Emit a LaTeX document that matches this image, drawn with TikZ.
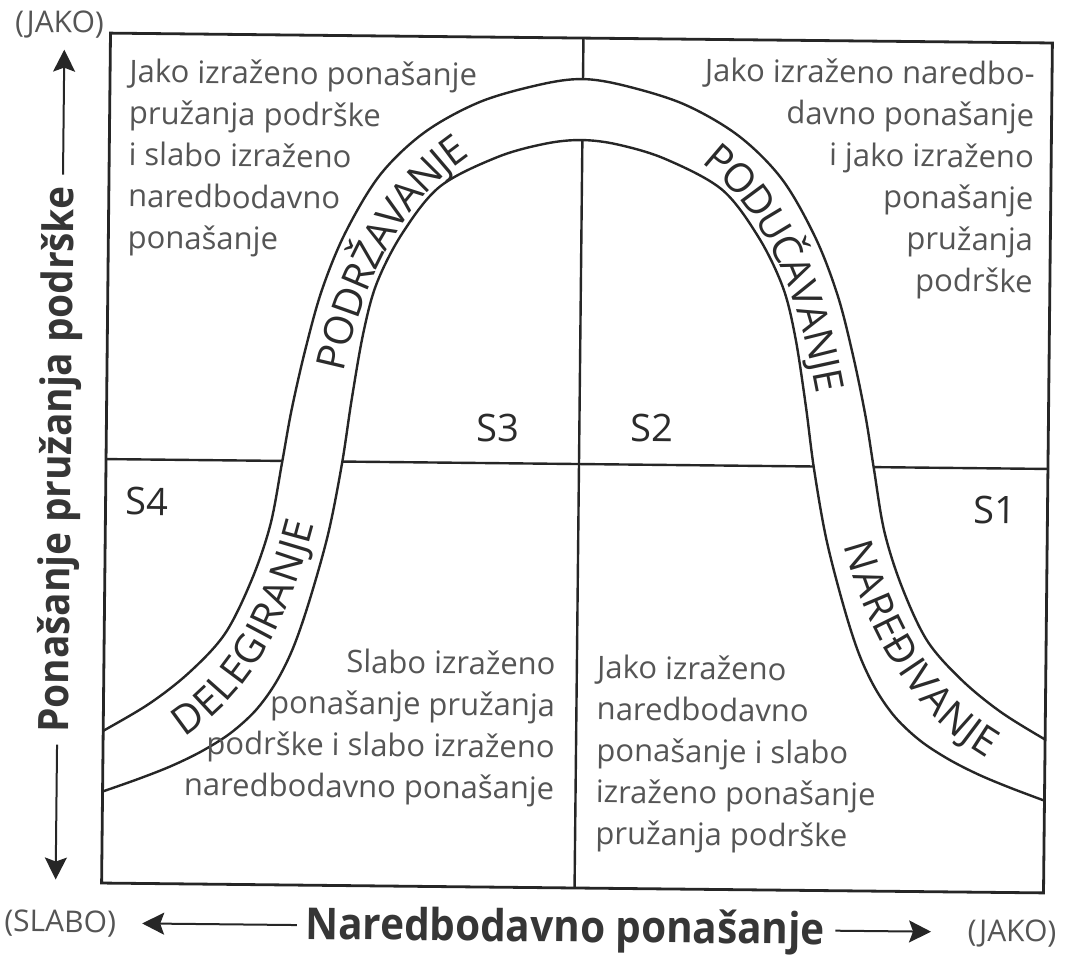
\documentclass[tikz,border=0pt]{standalone}
\usepackage{fontspec}
\setmainfont{Open Sans}
\newfontfamily\titlefont{Open Sans}[FakeStretch=0.92]
\usetikzlibrary{arrows.meta}
\definecolor{linec}{HTML}{262626}
\definecolor{bodyc}{HTML}{555555}
\definecolor{labc}{HTML}{2B2B2B}
\definecolor{titlec}{HTML}{363636}
\newcommand{\bandfont}{\fontsize{20}{24}\selectfont}
\tikzset{
  frame/.style={draw=linec, line width=1.4pt},
  divider/.style={draw=linec, line width=1.2pt},
  band/.style={draw=linec, line width=1.2pt},
  bodytext/.style={font=\fontsize{15.5}{20.75}\selectfont, text=bodyc, inner sep=0pt},
  slabel/.style={font=\fontsize{19}{22}\selectfont, text=labc, inner sep=0pt},
  axistitle/.style={font=\titlefont\bfseries\fontsize{22}{27}\selectfont, text=titlec, inner sep=0pt},
  vaxistitle/.style={font=\titlefont\bfseries\fontsize{21}{26}\selectfont, text=titlec, inner sep=0pt},
  endlabel/.style={font=\fontsize{15}{18}\selectfont, text=bodyc, inner sep=0pt},
  axisarrow/.style={draw=linec, line width=1pt, -{Stealth[length=11pt,width=11pt,inset=2pt]}},
  bl/.style={sloped, anchor=center, inner sep=0pt, text height=14.3pt, text depth=0pt, font=\bandfont, text=labc},
}
\begin{document}
\begin{tikzpicture}[x=0.5pt,y=-0.5pt]
\useasboundingbox (0,0) rectangle (1066,955);
\begin{scope}[rotate around={-0.6:(577,463)}, transform shape]
  % quadrant dividers
  \draw[divider] (579,38) -- (579,888);
  \draw[divider] (106,464) -- (1048,464);
  % the curved band
  \begin{scope}
    \clip (106,38) rectangle (1048,888);
    \fill[white] plot[smooth,tension=0.55] coordinates {(95,742) (104,737) (152,708) (192,676) (227,637) (253,583) (271,528) (282,466) (291,413) (304,353) (320,293) (343,235) (377,177) (421,134) (476,103) (536,85) (578,79) (620,85) (680,103) (735,134) (779,177) (813,235) (836,293) (852,353) (865,413) (874,466) (885,528) (903,583) (929,637) (964,676) (1004,708) (1052,737) (1061,742)}
      -- plot[smooth,tension=0.55] coordinates {(1061,800) (1051.5,797) (1013,783) (981,770) (951,755) (923,737) (898,714) (878,686) (861,651) (845,603) (827,536) (814,466) (805,402) (794,335) (781,285) (756,235) (719,188) (662,158) (614,144) (578,140) (542,144) (494,158) (437,188) (400,235) (375,285) (362,335) (351,402) (342,466) (329,536) (311,603) (295,651) (278,686) (258,714) (233,737) (205,755) (175,770) (143,783) (104.5,797) (95,800)} -- cycle;
    \draw[band] plot[smooth,tension=0.55] coordinates {(95,742) (104,737) (152,708) (192,676) (227,637) (253,583) (271,528) (282,466) (291,413) (304,353) (320,293) (343,235) (377,177) (421,134) (476,103) (536,85) (578,79) (620,85) (680,103) (735,134) (779,177) (813,235) (836,293) (852,353) (865,413) (874,466) (885,528) (903,583) (929,637) (964,676) (1004,708) (1052,737) (1061,742)};
    \draw[band] plot[smooth,tension=0.55] coordinates {(95,800) (104.5,797) (143,783) (175,770) (205,755) (233,737) (258,714) (278,686) (295,651) (311,603) (329,536) (342,466) (351,402) (362,335) (375,285) (400,235) (437,188) (494,158) (542,144) (578,140) (614,144) (662,158) (719,188) (756,235) (781,285) (794,335) (805,402) (814,466) (827,536) (845,603) (861,651) (878,686) (898,714) (923,737) (951,755) (981,770) (1013,783) (1051.5,797) (1061,800)};
  \end{scope}
  \draw[frame] (106,38) rectangle (1048,888);
  % band labels, letter by letter along the band
  \path (328.6,371.5) .. controls (346.6,283.3) and (384.1,196.9) .. (457.9,145.6)
    node[bl,pos=.045]{P} node[bl,pos=.147]{O} node[bl,pos=.259]{D} node[bl,pos=.359]{R}
    node[bl,pos=.447]{Ž} node[bl,pos=.536]{A} node[bl,pos=.628]{V} node[bl,pos=.719]{A}
    node[bl,pos=.822]{N} node[bl,pos=.899]{J} node[bl,pos=.960]{E};
  \path (707.3,150.6) .. controls (780.9,205.8) and (812.9,298.7) .. (830.4,388.9)
    node[bl,pos=.043]{P} node[bl,pos=.143]{O} node[bl,pos=.252]{D} node[bl,pos=.358]{U}
    node[bl,pos=.457]{Č} node[bl,pos=.548]{A} node[bl,pos=.637]{V} node[bl,pos=.726]{A}
    node[bl,pos=.826]{N} node[bl,pos=.900]{J} node[bl,pos=.960]{E};
  \path (178.9,729.6) .. controls (248.6,684.8) and (281.2,603.4) .. (301.1,522.9)
    node[bl,pos=.059]{D} node[bl,pos=.162]{E} node[bl,pos=.249]{L} node[bl,pos=.336]{E}
    node[bl,pos=.439]{G} node[bl,pos=.519]{I} node[bl,pos=.592]{R} node[bl,pos=.693]{A}
    node[bl,pos=.806]{N} node[bl,pos=.889]{J} node[bl,pos=.955]{E};
  \path (858.3,538.4) .. controls (881.3,620.3) and (923.8,700) .. (997.8,741.7)
    node[bl,pos=.059]{N} node[bl,pos=.168]{A} node[bl,pos=.266]{R} node[bl,pos=.358]{E}
    node[bl,pos=.459]{Đ} node[bl,pos=.539]{I} node[bl,pos=.607]{V} node[bl,pos=.703]{A}
    node[bl,pos=.812]{N} node[bl,pos=.892]{J} node[bl,pos=.957]{E};
  % quadrant texts
  \node[bodytext, anchor=north west, align=left] (tl) at (125,63) {Jako izraženo ponašanje\\pružanja podrške\\i slabo izraženo\\naredbodavno\\ponašanje};
  \node[bodytext, anchor=north east, align=right] (tr) at (1031,56) {Jako izraženo naredbo-\\davno ponašanje\\i jako izraženo\\ponašanje\\pružanja\\podrške};
  \node[bodytext, anchor=north east, align=right] (blq) at (558,651) {Slabo izraženo\\ponašanje pružanja\\podrške i slabo izraženo\\naredbodavno ponašanje};
  \node[bodytext, anchor=north west, align=left] (brq) at (599,654) {Jako izraženo\\naredbodavno\\ponašanje i slabo\\izraženo ponašanje\\pružanja podrške};
  % style labels
  \node[slabel] (s3) at (497.6,429) {S3};
  \node[slabel] (s2) at (651.6,427) {S2};
  \node[slabel] (s4) at (147.4,506) {S4};
  \node[slabel] (s1) at (995.5,506) {S1};
  % vertical axis
  \node[vaxistitle, rotate=90] (yt) at (60,465) {Ponašanje pružanja podrške};
  \coordinate (yu) at (62,55);
  \coordinate (yd) at (62,885);
  \draw[axisarrow] ([yshift=6pt]yt.east) -- (yt.east |- yu);
  \draw[axisarrow] ([yshift=-6pt]yt.west) -- (yt.west |- yd);
  \node[endlabel] (yhi) at (55,30) {(JAKO)};
  % horizontal axis
  \node[axistitle, anchor=base] (xt) at (570,942) {Naredbodavno ponašanje};
  \coordinate (xl) at (147,928);
  \coordinate (xr) at (936,928);
  \draw[axisarrow] ([xshift=-4pt,yshift=7pt]xt.base west) -- (xl);
  \draw[axisarrow] ([xshift=5pt,yshift=7pt]xt.base east) -- (xr);
  \node[endlabel] (xlo) at (65,929) {(SLABO)};
  \node[endlabel] (xhi) at (1017,929) {(JAKO)};
\end{scope}
\end{tikzpicture}
\end{document}
